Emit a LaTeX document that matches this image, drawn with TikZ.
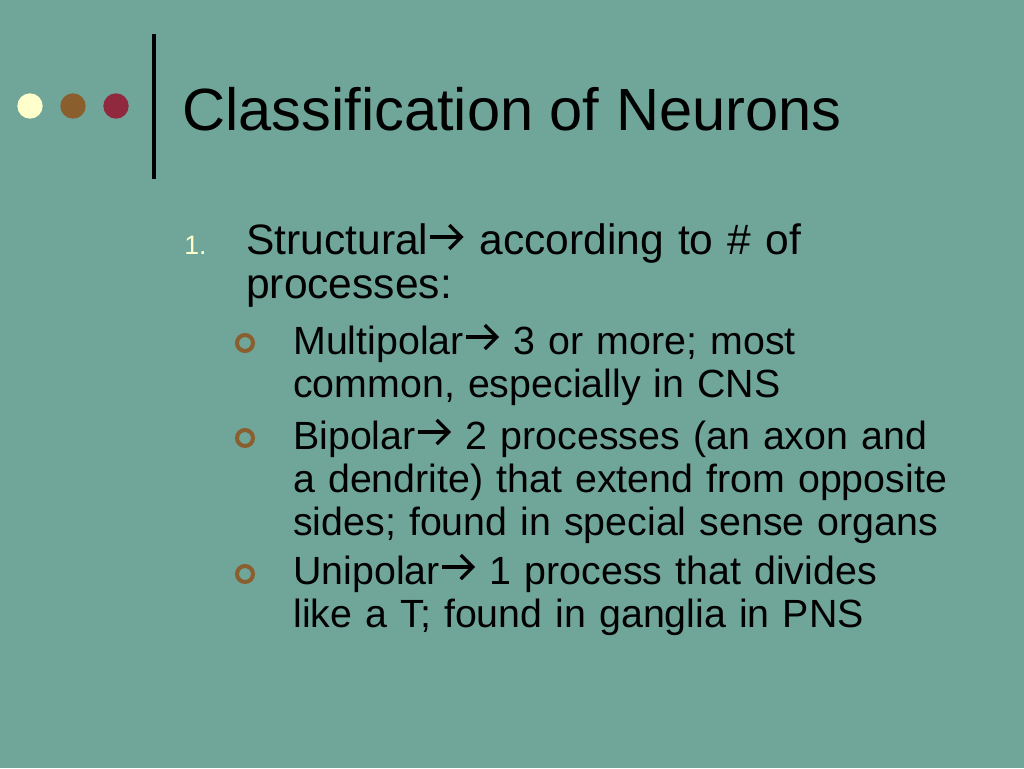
\documentclass[tikz,border=0pt]{standalone}
\usepackage{fontspec}
\setmainfont{Liberation Sans}
\usepackage{tikz}
\usepackage{xcolor}
\usetikzlibrary{positioning}

\definecolor{slidebg}{RGB}{112,165,153}
\definecolor{dotcream}{RGB}{255,255,204}
\definecolor{dotbrown}{RGB}{139,94,46}
\definecolor{dotmaroon}{RGB}{145,41,62}
% inline arrow after each term
\newcommand{\arr}{\tikz[baseline=0pt, x=0.75pt, y=0.75pt]{\path (0, 0) -- (37, 0); \draw[line width=2.5pt] (2, 17) -- (33, 17); \draw[line width=2.5pt, line join=miter] (21, 5) -- (33, 17) -- (21, 29);}}

\begin{document}
\begin{tikzpicture}[x=0.75pt, y=-0.75pt,
    dot/.style={circle, inner sep=0pt, minimum size=19pt},
    ring/.style={circle, draw=dotbrown, line width=3pt, inner sep=0pt, minimum size=12pt},
    lvlone/.style={anchor=base west, inner sep=0pt, text width=560pt, align=left, font=\fontsize{31.9}{33}\selectfont},
    lvltwo/.style={anchor=base west, inner sep=0pt, text width=520pt, align=left, font=\fontsize{29.5}{32.3}\selectfont}]
            \fill[slidebg] (0, 0) rectangle (1024, 768);
            \useasboundingbox (0, 0) rectangle (1024, 768);

            \node[dot, fill=dotcream] (d1) at (30, 106) {};
            \node[dot, fill=dotbrown] (d2) at (73, 106) {};
            \node[dot, fill=dotmaroon] (d3) at (116, 106) {};
            \draw[line width=3pt] (153.5, 34) -- (153.5, 179);

            \node[anchor=base west, inner sep=0pt, font=\fontsize{44.7}{48}\selectfont] (title) at (182, 130) {Classification of Neurons};

            \node[anchor=base west, inner sep=0pt, text=dotcream, font=\fontsize{20}{22}\selectfont] (num) at (184, 254) {1.};
            \node[lvlone] (struct) at (246, 254) {Structural\arr\ according to \# of\\processes:};

            \node[ring] (b1) at (245, 343) {};
            \node[lvltwo] (multi) at (293, 354) {Multipolar\arr\ 3 or more; most\\common, especially in CNS};
            \node[ring] (b2) at (245, 438) {};
            \node[lvltwo] (bi) at (293, 449) {Bipolar\arr\ 2 processes (an axon and\\a dendrite) that extend from opposite\\sides; found in special sense organs};
            \node[ring] (b3) at (245, 574) {};
            \node[lvltwo] (uni) at (293, 584) {Unipolar\arr\ 1 process that divides\\like a T; found in ganglia in PNS};
\end{tikzpicture}
\end{document}
